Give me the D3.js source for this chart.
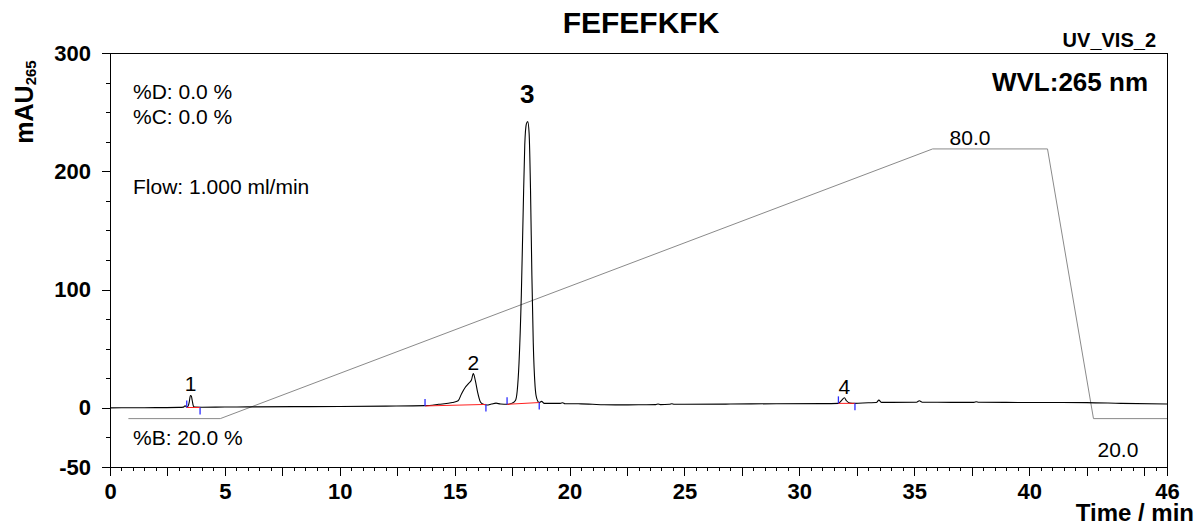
<!DOCTYPE html>
<html>
<head>
<meta charset="utf-8">
<script src="https://cdn.jsdelivr.net/npm/d3@7"></script>
<style>
  body { margin: 0; background: #fff; }
  svg { display: block; font-family: "Liberation Sans", Arial, sans-serif; }
  .axis path, .axis line { stroke: #000; shape-rendering: crispEdges; }
  .axis text { font-weight: bold; font-size: 22px; fill: #000; }
</style>
</head>
<body>
<svg id="chart" width="1196" height="527"></svg>
<script>
// chromatogram trace (time in min, signal in mAU)
var traceTime = [0, 1, 2, 3, 3.2, 3.27, 3.32, 3.4, 3.45, 3.5, 3.54, 3.58, 3.63, 3.7, 4.0, 5, 6, 8, 10, 12,
  13.7, 14.3, 14.9, 15.15, 15.3, 15.45, 15.6, 15.73, 15.81, 15.9, 16.0, 16.12, 16.25, 16.4, 16.6, 16.8, 17.0,
  17.3, 17.5, 17.65, 17.72, 17.8, 17.9, 17.98, 18.05, 18.12, 18.18, 18.24, 18.3, 18.36, 18.42, 18.5, 18.57,
  18.68, 18.78, 18.9, 19.6, 19.7, 19.8, 20.5, 21, 21.5, 22, 23, 23.75, 23.85, 23.95, 24.35, 24.45, 24.55, 25,
  27, 29, 31, 31.7, 31.85, 31.96, 32.05, 32.2, 32.4, 33, 33.35, 33.46, 33.58, 34, 35.1, 35.22, 35.35, 36,
  37.6, 37.7, 37.8, 39, 41, 42.5, 44, 46];
var traceSignal = [0, 0.1, 0.2, 0.4, 0.6, 1.8, 0.8, 1.5, 5, 10.5, 10, 6, 1.5, 0.6, 0.5, 0.7, 0.8, 1.0, 1.2, 1.5,
  1.9, 3, 4.5, 6, 12, 17, 20.5, 23.5, 29, 23, 13, 5, 3, 2.4, 3.2, 4, 3.2,
  3, 4, 6.5, 14, 38, 95, 165, 222, 240, 242, 232, 185, 112, 55, 18, 8,
  4.5, 5.5, 3.8, 3.8, 4.3, 3.5, 3.4, 3, 2.6, 2.5, 2.6, 2.7, 3.3, 2.7, 3, 3.5, 3, 3,
  3.2, 3.5, 3.6, 3.8, 6.5, 8.5, 6, 4, 3.8, 4.3, 4.5, 6.5, 4.6, 4.6, 4.8, 6.0, 4.8, 4.7,
  4.6, 5.2, 4.8, 4.6, 4.5, 4.4, 3.8, 3.2];

// gradient program (%B)
var gradTime = [0.8, 4.8, 35.8, 40.8, 42.8, 46];
var gradB = [20, 20, 80, 80, 20, 20];

// integrated peaks
var peakNo = ["1", "2", "3", "4"];
var peakApex = [3.51, 15.81, 18.16, 31.96];
var peakStart = [3.34, 13.71, 17.28, 31.7];
var peakStartVal = [0.3, 1.6, 3.0, 3.8];
var peakEnd = [3.92, 16.36, 18.68, 32.42];
var peakEndVal = [0.3, 2.9, 4.5, 3.8];
var peakHeight = [10.5, 29, 242, 8.5];

var yTicks = [300, 200, 100, 0, -50];
var xLabels = [0, 5, 10, 15, 20, 25, 30, 35, 40, 46];

var svg = d3.select('#chart');
var mLeft = 110, mRight = 1167, mTop = 53, mBottom = 467;

var x = d3.scaleLinear().domain([0, 46]).range([mLeft, mRight]);
var y = d3.scaleLinear().domain([-50, 300]).range([mBottom, mTop]);
// %B drawn on its own scale over the signal axis
var yB = d3.scaleLinear().domain([20, 80]).range([y(-9.1), y(218.9)]);

// frame
svg.append('line').attr('x1', mLeft - 8).attr('x2', mRight).attr('y1', mTop).attr('y2', mTop)
  .attr('stroke', '#000').attr('shape-rendering', 'crispEdges');
svg.append('line').attr('x1', mRight).attr('x2', mRight).attr('y1', mTop).attr('y2', mBottom)
  .attr('stroke', '#000').attr('shape-rendering', 'crispEdges');

// y axis: minor every 25, labelled majors
svg.append('g').attr('class', 'axis').attr('transform', 'translate(' + mLeft + ',0)')
  .call(d3.axisLeft(y).tickValues(d3.range(-50, 301, 25)).tickSize(4).tickSizeOuter(0).tickFormat(''));
svg.append('g').attr('class', 'axis').attr('transform', 'translate(' + mLeft + ',0)')
  .call(d3.axisLeft(y).tickValues(yTicks).tickSize(8).tickSizeOuter(0).tickPadding(11)
    .tickFormat(function(d) { return String(d); }))
  .select('.domain').remove();

// x axis: minor every 0.5, long every 2.5
var longTicks = d3.range(0, 46, 2.5).concat([46]);
svg.append('g').attr('class', 'axis').attr('transform', 'translate(0,' + mBottom + ')')
  .call(d3.axisBottom(x).tickValues(d3.range(0, 46.01, 0.5)).tickSize(4).tickSizeOuter(0).tickFormat(''));
svg.append('g').attr('class', 'axis').attr('transform', 'translate(0,' + mBottom + ')')
  .call(d3.axisBottom(x).tickValues(longTicks).tickSize(9).tickSizeOuter(0).tickFormat(''))
  .select('.domain').remove();
svg.append('g').attr('class', 'axis').attr('transform', 'translate(0,' + mBottom + ')')
  .call(d3.axisBottom(x).tickValues(xLabels).tickSize(9).tickPadding(7)
    .tickFormat(function(d) { return String(d); }))
  .select('.domain').remove();

// gradient
var gradPts = gradTime.map(function(t, i) { return [t, gradB[i]]; });
svg.append('path').datum(gradPts)
  .attr('fill', 'none').attr('stroke', '#8a8a8a').attr('stroke-width', 1)
  .attr('d', d3.line().x(function(d) { return x(d[0]); }).y(function(d) { return yB(d[1]); }));

// chromatogram
var trace = traceTime.map(function(t, i) { return [t, traceSignal[i]]; });
svg.append('path').datum(trace)
  .attr('fill', 'none').attr('stroke', '#000').attr('stroke-width', 1.1)
  .attr('d', d3.line().curve(d3.curveMonotoneX)
    .x(function(d) { return x(d[0]); }).y(function(d) { return y(d[1]); }));

// baselines and delimiters
var peaks = peakNo.map(function(n, i) {
  return { n: n, apex: peakApex[i], s: peakStart[i], sv: peakStartVal[i],
           e: peakEnd[i], ev: peakEndVal[i], h: peakHeight[i] };
});
svg.selectAll('.base').data(peaks).enter().append('line')
  .attr('x1', function(d) { return x(d.s); }).attr('y1', function(d) { return y(d.sv); })
  .attr('x2', function(d) { return x(d.e); }).attr('y2', function(d) { return y(d.ev); })
  .attr('stroke', '#ff2020').attr('stroke-width', 1);
svg.selectAll('.tickS').data(peaks).enter().append('line')
  .attr('x1', function(d) { return x(d.s); }).attr('x2', function(d) { return x(d.s); })
  .attr('y1', function(d) { return y(d.sv); }).attr('y2', function(d) { return y(d.sv) - 7; })
  .attr('stroke', '#2b2bff').attr('stroke-width', 1.3);
svg.selectAll('.tickE').data(peaks).enter().append('line')
  .attr('x1', function(d) { return x(d.e); }).attr('x2', function(d) { return x(d.e); })
  .attr('y1', function(d) { return y(d.ev); }).attr('y2', function(d) { return y(d.ev) + 7; })
  .attr('stroke', '#2b2bff').attr('stroke-width', 1.3);

// peak numbers
svg.selectAll('.pk').data(peaks).enter().append('text')
  .attr('x', function(d) { return x(d.apex); })
  .attr('y', function(d) { return y(d.h) - (d.n === '3' ? 19 : 4); })
  .attr('text-anchor', 'middle')
  .attr('font-size', function(d) { return d.n === '3' ? 26 : 21; })
  .attr('font-weight', function(d) { return d.n === '3' ? 'bold' : 'normal'; })
  .text(function(d) { return d.n; });

// texts
function label(txt, px, py, size, weight, anchor) {
  svg.append('text').attr('x', px).attr('y', py).attr('font-size', size)
    .attr('font-weight', weight || 'normal').attr('text-anchor', anchor || 'start').text(txt);
}
label('FEFEFKFK', 641, 33, 30, 'bold', 'middle');
label('UV_VIS_2', 1156, 47, 20, 'bold', 'end');
label('WVL:265 nm', 1148, 91, 26, 'bold', 'end');
label('%D: 0.0 %', 133, 99, 21);
label('%C: 0.0 %', 133, 124, 21);
label('Flow: 1.000 ml/min', 133, 194, 21);
label('%B: 20.0 %', 133, 445, 21);
label('80.0', x(35.8) + 17, yB(80) - 4, 21);
label('20.0', x(42.8) + 4, 457, 21);
label('Time / min', 1194, 521, 24, 'bold', 'end');

var yl = svg.append('text').attr('transform', 'translate(33,102) rotate(-90)')
  .attr('text-anchor', 'middle').attr('font-weight', 'bold').attr('font-size', 25);
yl.append('tspan').text('mAU');
yl.append('tspan').attr('font-size', 15).attr('dy', 3).text('265');
</script>
</body>
</html>
